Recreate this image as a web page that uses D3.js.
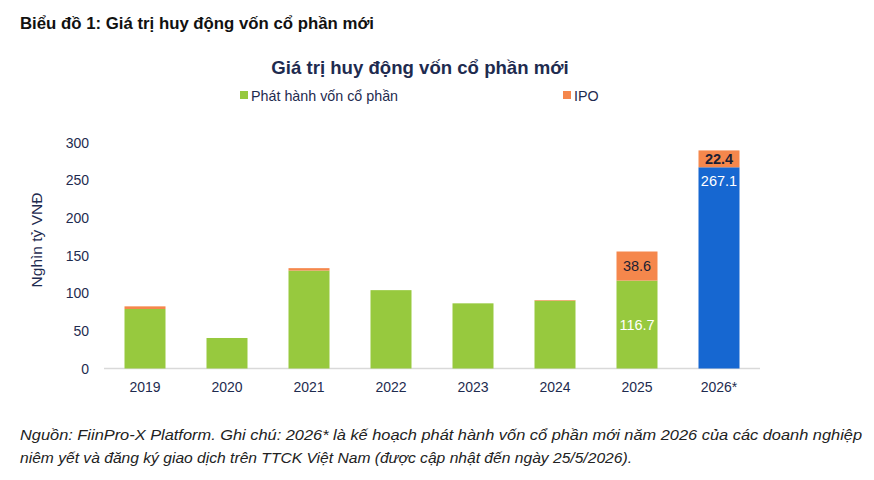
<!DOCTYPE html>
<html><head><meta charset="utf-8">
<script src="https://cdn.jsdelivr.net/npm/d3@7"></script>
<style>body{margin:0;background:#fff}svg{display:block}</style>
</head><body>
<svg id="c" width="874" height="480"></svg>
<script>
const categories = ["2019","2020","2021","2022","2023","2024","2025","2026*"];
const issuance = [79, 40.5, 130, 104, 86.5, 90, 116.7, 267.1];
const ipo = [3.5, 0, 3.2, 0, 0, 0.8, 38.6, 22.4];
const yTicks = [0, 50, 100, 150, 200, 250, 300];
const seriesNames = ["Phát hành vốn cổ phần", "IPO"];
const heading = "Biểu đồ 1: Giá trị huy động vốn cổ phần mới";
const chartTitle = "Giá trị huy động vốn cổ phần mới";
const yLabel = "Nghìn tỷ VNĐ";
const notes = ["Nguồn: FiinPro-X Platform. Ghi chú: 2026* là kế hoạch phát hành vốn cổ phần mới năm 2026 của các doanh nghiệp",
  "niêm yết và đăng ký giao dịch trên TTCK Việt Nam (được cập nhật đến ngày 25/5/2026)."];
const labelled = {"2025": {main: "center", ipoBold: false}, "2026*": {main: "top", ipoBold: true}};

const GREEN = "#97c93e", ORANGE = "#f5874c", BLUE = "#1667d1", NAVY = "#1e2b4f";
const svg = d3.select("#c");
const font = "'Liberation Sans', Arial, sans-serif";

const x = d3.scaleBand().domain(categories).range([104, 760]).paddingInner(0.5).paddingOuter(0.25);
const y = d3.scaleLinear().domain([0, 300]).range([368.5, 142.5]);

svg.append("text").attr("x", 20).attr("y", 29).attr("font-family", font).attr("font-weight", "bold")
  .attr("font-size", 17).attr("fill", "#111").attr("textLength", 354).attr("lengthAdjust", "spacingAndGlyphs")
  .text(heading);

svg.append("text").attr("x", 420).attr("y", 74).attr("text-anchor", "middle").attr("font-family", font)
  .attr("font-weight", "bold").attr("font-size", 18.6).attr("fill", NAVY).text(chartTitle);

// legend
const leg = [{n: seriesNames[0], c: GREEN, x: 240}, {n: seriesNames[1], c: ORANGE, x: 563}];
leg.forEach(l => {
  svg.append("rect").attr("x", l.x).attr("y", 91).attr("width", 8).attr("height", 8).attr("fill", l.c);
  svg.append("text").attr("x", l.x + 11).attr("y", 100.5).attr("font-family", font).attr("font-size", 14.3)
    .attr("fill", NAVY).text(l.n);
});

// y axis labels
svg.append("g").selectAll("text").data(yTicks).join("text")
  .attr("x", 89).attr("y", d => y(d) + 5).attr("text-anchor", "end").attr("font-family", font)
  .attr("font-size", 14).attr("fill", NAVY).text(d => d);

svg.append("text").attr("transform", `translate(42,240) rotate(-90)`).attr("text-anchor", "middle")
  .attr("font-family", font).attr("font-size", 15.5).attr("fill", NAVY).text(yLabel);

// baseline
svg.append("line").attr("x1", 104).attr("x2", 760).attr("y1", y(0)).attr("y2", y(0))
  .attr("stroke", "#d9d9d9").attr("stroke-width", 1.5);

const data = categories.map((c, i) => ({c, a: issuance[i], b: ipo[i]}));
const g = svg.append("g");
g.selectAll("rect.a").data(data).join("rect").attr("class", "a")
  .attr("x", d => x(d.c)).attr("width", x.bandwidth())
  .attr("y", d => y(d.a)).attr("height", d => y(0) - y(d.a))
  .attr("fill", d => d.c === "2026*" ? BLUE : GREEN);
g.selectAll("rect.b").data(data.filter(d => d.b > 0)).join("rect").attr("class", "b")
  .attr("x", d => x(d.c)).attr("width", x.bandwidth())
  .attr("y", d => y(d.a + d.b)).attr("height", d => y(d.a) - y(d.a + d.b))
  .attr("fill", ORANGE);

// x labels
svg.append("g").selectAll("text").data(categories).join("text")
  .attr("x", d => x(d) + x.bandwidth() / 2).attr("y", 392).attr("text-anchor", "middle")
  .attr("font-family", font).attr("font-size", 14).attr("fill", NAVY).text(d => d);

// data labels
data.filter(d => labelled[d.c]).forEach(d => {
  const cx = x(d.c) + x.bandwidth() / 2, opt = labelled[d.c];
  const my = opt.main === "center" ? (y(0) + y(d.a)) / 2 + 5 : y(d.a) + 19;
  svg.append("text").attr("x", cx).attr("y", my).attr("text-anchor", "middle").attr("font-family", font)
    .attr("font-size", 14.5).attr("fill", "#fff").text(d.a.toFixed(1));
  svg.append("text").attr("x", cx).attr("y", (y(d.a) + y(d.a + d.b)) / 2 + 5).attr("text-anchor", "middle")
    .attr("font-family", font).attr("font-size", 14.5).attr("font-weight", opt.ipoBold ? "bold" : "normal")
    .attr("fill", "#1b1f33").text(d.b.toFixed(1));
});

// footnote
const noteLens = [842, 612];
notes.forEach((t, i) => {
  svg.append("text").attr("x", 20).attr("y", 440 + i * 23).attr("font-family", font).attr("font-style", "italic")
    .attr("font-size", 15.5).attr("fill", "#222").attr("textLength", noteLens[i]).attr("lengthAdjust", "spacingAndGlyphs")
    .text(t);
});
</script>
</body></html>
